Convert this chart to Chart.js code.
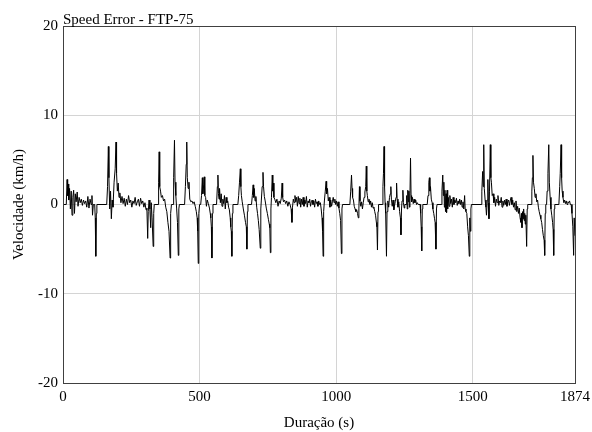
<!DOCTYPE html>
<html>
<head>
<meta charset="utf-8">
<script src="https://cdn.jsdelivr.net/npm/chart.js@4"></script>
<style>
  html, body { margin:0; padding:0; background:#fff; }
  #wrap { width:592px; height:432px; }
</style>
</head>
<body>
<div id="wrap"><canvas id="speedChart" width="592" height="432"></canvas></div>
<script>
// Speed error over the FTP-75 cycle
const timeSec = [
  0, 12, 15, 17, 19, 21, 24, 27, 30, 33, 36, 39, 42, 45, 48, 52, 55, 59, 63, 67, 71, 75, 79, 83, 87, 91, 95, 99, 103, 106, 108, 111, 116, 118, 120, 122, 124,
  160, 163, 166, 168, 171, 174, 177, 180, 183, 187, 191, 194, 196, 199, 202, 205, 208, 212, 216, 220, 224, 228, 232, 236, 240, 244, 248, 252, 256, 260, 264, 268, 272, 276, 280, 284, 288, 292, 296, 300, 304, 307, 310, 312, 315, 318, 321, 323, 326, 330, 332, 334,
  348, 350, 352, 354, 357, 360, 364, 368, 372, 376, 380, 384, 388, 392, 394, 397, 403, 405, 408, 410, 413, 416, 419, 422, 424, 426,
  445, 448, 451, 453, 455, 458, 461, 464, 468, 472, 476, 480, 484, 488, 491, 493, 495, 497, 500, 504, 507, 510, 512, 515, 517, 519, 522, 525, 528, 532, 536, 539, 541, 543, 545, 547, 549,
  562, 565, 567, 569, 571, 573, 576, 579, 582, 585, 588, 591, 594, 597, 600, 603, 606, 609, 612, 614, 616, 618, 620, 622,
  640, 643, 646, 649, 651, 653, 656, 660, 664, 668, 671, 673, 675, 677, 690, 693, 696, 698, 700, 703, 706, 709, 712, 715, 718, 722, 724, 726, 729, 732, 734, 737, 740, 744, 748, 752, 755, 757, 759, 761, 763, 766, 768, 770, 772, 775, 779, 783, 787, 791, 795, 799, 802, 804, 807, 811, 815, 819, 823, 827, 831, 835, 838, 840,
  843, 846, 849, 852, 855, 858, 861, 864, 867, 870, 873, 876, 879, 882, 885, 888, 891, 894, 897, 900, 903, 906, 909, 912, 915, 918, 921, 924, 927, 930, 933, 936, 939, 942, 945, 948, 950, 952, 954, 957, 960, 963, 965, 968, 971, 974, 977, 980, 983, 986, 989, 992, 995, 998,
  1001, 1004, 1007, 1010, 1013, 1016, 1019, 1021, 1023, 1050, 1053, 1056, 1058, 1060, 1063, 1066, 1069, 1072, 1075, 1078, 1081, 1083, 1085, 1087, 1090, 1093, 1096, 1099, 1102, 1105, 1108, 1110, 1112, 1114, 1117, 1120, 1123, 1126, 1129, 1132, 1135, 1138, 1141, 1144, 1147, 1149, 1151, 1153, 1155,
  1168, 1171, 1173, 1175, 1177, 1179, 1181, 1184, 1186, 1189, 1192, 1195, 1198, 1200, 1202, 1205, 1208, 1211, 1213, 1216, 1219, 1221, 1223, 1226, 1229, 1232, 1235, 1237, 1239, 1241, 1244, 1246, 1249, 1251,
  1256, 1258, 1260, 1262, 1264, 1266, 1268, 1270, 1272, 1274, 1276, 1279, 1282, 1285, 1288, 1291, 1294, 1297, 1300, 1307, 1309, 1311, 1313, 1315, 1317,
  1333, 1336, 1339, 1341, 1343, 1345, 1348, 1351, 1354, 1357, 1360, 1362, 1365, 1367, 1369, 1384, 1387, 1390, 1392, 1394, 1396, 1398, 1400, 1402, 1404, 1406, 1408, 1410, 1413, 1416, 1419, 1422, 1425, 1428, 1431, 1434, 1437, 1440, 1443, 1446, 1449, 1452, 1455, 1458, 1461, 1464, 1467, 1470, 1472, 1475, 1478, 1481, 1484, 1487, 1489, 1491, 1493, 1495,
  1530, 1533, 1536, 1538, 1540, 1542, 1545, 1548, 1550, 1553, 1555, 1557, 1559, 1561, 1564, 1566, 1568, 1571, 1574, 1577, 1580, 1583, 1586, 1589, 1592, 1595, 1598, 1601, 1604, 1607, 1610, 1613, 1616, 1619, 1622, 1625, 1628, 1631, 1634, 1637, 1640, 1643, 1646, 1649, 1652, 1655, 1658, 1661, 1664, 1667, 1670, 1673, 1676, 1678, 1680, 1682, 1684, 1686, 1688, 1690, 1692, 1694, 1697, 1699, 1701,
  1713, 1716, 1718, 1720, 1722, 1725, 1728, 1731, 1734, 1737, 1740, 1743, 1746, 1749, 1752, 1755, 1758, 1761, 1763, 1765, 1767, 1770, 1772, 1775, 1778, 1780, 1783, 1786, 1789, 1792, 1794, 1796, 1798, 1800,
  1815, 1818, 1820, 1823, 1825, 1827, 1830, 1833, 1836, 1839, 1842, 1845, 1848, 1851, 1854, 1857, 1860, 1863, 1866, 1869, 1871, 1874
];
const speedErr = [
  0, 0, 2.8, 1.0, 2.3, 0.5, 1.8, -0.5, 1.5, -1.2, 0.8, 1.6, -1.0, 1.2, 0.3, 1.4, -0.2, 0.8, 0.2, 0.6, -0.1, 0.5, 0.1, 0.4, -0.3, 0.9, -0.4, 0.6, 0.0, 1.0, -1.2, 0, 0, -1.5, -5.8, -1.0, 0,
  0, 2.0, 6.5, 3.0, -0.5, 1.5, -1.6, 0.5, -0.3, 2.5, 4.0, 7.0, 3.5, 1.5, 2.4, 0.8, 1.3, 0.2, 0.9, 0.1, 0.7, -0.2, 0.6, 0.0, 1.0, 0.2, 0.5, -0.3, 0.4, 0.1, 0.8, -0.1, 0.3, 0.6, -0.2, 0.7, 0.1, 0.4, -0.3, 0.2, -0.6, -0.4, -3.8, -0.8, 0.5, -0.5, -2.6, 0.2, -1.5, -4.7, -1.0, 0,
  0, 2.5, 5.9, 2.0, 1.5, 0.8, 1.0, 0.4, 0.6, -0.3, -0.8, -2.0, -3.0, -6.0, -1.0, 0, 0, 3.0, 7.2, 2.5, 1.0, -0.5, -2.0, -5.7, -0.5, 0,
  0, 2.0, 4.5, 7.0, 3.0, 1.8, 2.5, 0.6, 0.3, 0.4, 0.1, 0.3, -0.2, -0.8, -1.5, -3.0, -6.6, -1.0, 0, 0, 1.0, 3.0, 1.2, 2.2, 3.1, 1.0, 0.8, -0.2, 0.5, 0.1, -0.4, -1.0, -1.5, -2.5, -6.0, -1.0, 0,
  0, 2.0, 3.3, 1.2, 0.6, 1.8, 0.2, 1.2, -0.2, 0.6, 0.1, 1.0, -0.5, 0.8, 0.2, 0.4, -0.3, -0.6, -1.5, -2.5, -3.0, -5.8, -1.0, 0,
  0, 1.0, 2.5, 4.0, 2.0, 1.0, 0.3, -0.5, -1.2, -2.0, -2.5, -5.0, -0.8, 0, 0, 1.0, 2.2, 0.8, 1.8, 0.4, 0.9, -0.3, -1.0, -1.8, -2.8, -4.9, -0.5, 0.5, 2.0, 3.6, 2.0, 0.9, 0.4, -0.4, -1.0, -1.7, -2.2, -2.6, -5.4, -0.5, 0.8, 3.3, 1.5, 2.4, 0.8, 0.6, 0.2, 0.6, -0.2, 0.4, 0.1, 0.7, 2.4, 0.8, 0.3, 0.5, 0.1, 0.4, -0.2, 0.3, 0.0, -0.5, -2.0, -0.3,
  0.6, 0.2, 1.0, 0.3, 0.8, -0.2, 0.9, 0.1, 0.7, -0.3, 0.6, 0.0, 0.8, -0.2, 0.5, 0.1, 0.9, -0.3, 0.4, 0.2, 0.6, -0.2, 0.3, 0.5, 0.0, 0.4, -0.3, 0.6, 0.1, 0.3, -0.2, 0.4, 0.0, 0.2, -0.5, -1.5, -3.0, -5.8, -0.8, 0.5, 1.5, 2.6, 1.2, 1.8, 0.4, 0.8, -0.3, 0.5, -0.2, 0.3, 0.8, 0.2, 0.6, 0.0,
  0.4, -0.2, 0.3, -0.4, -1.0, -1.8, -5.5, -0.5, 0, 0, 1.5, 3.3, 1.8, 0.8, 0.5, -0.2, -0.5, -0.8, -0.6, -1.0, -1.5, -0.5, 2.0, 0.4, -0.2, 0.3, -0.5, 0.2, 0.8, 1.4, 2.0, 4.3, 1.5, 1.0, 0.3, 0.6, 0.0, 0.4, -0.3, 0.2, -0.4, -0.3, -0.8, -1.2, -2.0, -2.5, -5.1, -0.8, 0,
  0, 2.0, 3.5, 6.5, 2.0, 0.2, -1.0, -5.8, -0.8, 0.4, -0.3, 0.8, 1.2, 2.0, 0.6, -0.2, 0.5, -0.6, -0.2, 0.3, 0.8, 2.4, 0.6, -0.3, 0.3, -0.8, -1.5, -3.4, -0.5, 0.4, 1.6, 0.2, -0.4, 0,
  0, 1.0, -0.5, 1.6, 0.3, 1.5, -0.3, 1.2, 5.2, 1.0, 0.3, 0.8, 0.1, 0.6, 0.2, 0.5, 0.0, 0.2, 0, 0, -1.0, -2.5, -5.2, -0.5, 0,
  0, 1.0, 2.5, 3.0, 1.5, 2.0, 0.6, 0.2, -0.5, -1.0, -1.6, -2.0, -5.0, -0.5, 0, 0, 1.5, 3.3, 1.0, 2.5, -0.3, 1.6, -0.8, 1.2, -0.9, 1.6, -0.5, 0.8, -0.2, 1.0, 0.1, 0.6, -0.3, 0.8, 0.0, 0.5, 0.2, 0.7, -0.1, 0.4, 0.1, 0.6, 0.0, 0.5, -0.3, 0.3, -0.5, 1.0, -0.5, -0.8, -1.0, -2.5, -3.5, -5.8, -1.5, -3.0, -0.5, 0,
  0, 1.5, 3.7, 2.0, 6.7, 1.8, 0.5, -0.3, -1.2, 0.5, 2.8, 0.2, -1.6, 1.5, 6.7, 3.0, 2.5, 1.0, 1.2, 0.2, 0.8, -0.2, 0.6, 0.2, 1.0, -0.1, 0.4, 0.2, 0.8, -0.3, 0.4, -0.1, 0.5, 0.0, 0.6, -0.2, 0.3, 0.5, -0.1, 0.4, 0.8, 0.0, 0.5, -0.3, 0.2, -0.6, 0.4, -0.8, -0.2, -1.0, -0.4, -1.5, -2.0, -1.0, -2.6, -0.8, -1.6, -0.5, -1.8, -1.0, -2.2, -1.2, -4.7, -0.5, 0,
  0, 1.5, 3.0, 5.5, 2.5, 1.8, 0.8, 1.2, 0.3, 0.5, -0.3, -0.8, -1.2, -1.6, -2.0, -2.8, -3.5, -4.0, -5.7, -1.0, 0, 0, 1.5, 3.5, 6.7, 2.5, 0.8, -0.5, -1.2, -2.0, -2.8, -5.7, -0.5, 0,
  0, 2.0, 3.5, 6.7, 3.0, 1.5, 0.8, 0.2, 0.5, 0.1, 0.4, 0.0, 0.3, 0.2, 0.4, 0, 0, -1.0, -2.5, -5.7, -1.5, -3.5
];
const xTicks = [0, 500, 1000, 1500, 1874];
const yTicks = [-20, -10, 0, 10, 20];

const serif = 'Liberation Serif, "Times New Roman", serif';

// plot frame and top-left title
const framePlugin = {
  id: 'frame',
  afterDraw(chart) {
    const { ctx, chartArea: a } = chart;
    ctx.save();
    ctx.strokeStyle = '#404040';
    ctx.lineWidth = 1;
    ctx.strokeRect(Math.round(a.left) + 0.5, Math.round(a.top) + 0.5, Math.round(a.right - a.left), Math.round(a.bottom - a.top));
    ctx.fillStyle = '#000';
    ctx.font = '15px ' + serif;
    ctx.textBaseline = 'alphabetic';
    ctx.fillText('Speed Error - FTP-75', a.left, a.top - 2);
    ctx.restore();
  }
};

function render() {
  const points = timeSec.map((t, i) => ({ x: t, y: speedErr[i] }));

  new Chart(document.getElementById('speedChart'), {
    type: 'line',
    data: {
      datasets: [{
        data: points,
        borderColor: '#000',
        borderWidth: 1,
        pointRadius: 0,
        tension: 0,
        fill: false
      }]
    },
    options: {
      responsive: false,
      animation: false,
      layout: { padding: { top: 26, right: 17, left: 0, bottom: 0 } },
      plugins: { legend: { display: false }, tooltip: { enabled: false } },
      scales: {
        x: {
          type: 'linear',
          min: 0, max: 1874,
          afterBuildTicks: s => { s.ticks = xTicks.map(v => ({ value: v })); },
          afterFit: s => { s.height = 49; s.paddingLeft = 0; s.paddingRight = 0; },
          grid: { color: '#d4d4d4', drawTicks: false },
          border: { display: false },
          ticks: { color: '#000', padding: 5, maxRotation: 0, callback: v => String(v), font: { family: serif, size: 15 } },
          title: { display: true, text: 'Duração (s)', color: '#000', padding: { top: 6, bottom: 0 }, font: { family: serif, size: 15 } }
        },
        y: {
          min: -20, max: 20,
          afterBuildTicks: s => { s.ticks = yTicks.map(v => ({ value: v })); },
          afterFit: s => { s.width = 63; },
          grid: { color: '#d4d4d4', drawTicks: false },
          border: { display: false },
          ticks: { color: '#000', padding: 5, callback: v => String(v), font: { family: serif, size: 15 } },
          title: { display: true, text: 'Velocidade (km/h)', color: '#000', padding: { top: 10, bottom: 0 }, font: { family: serif, size: 15 } }
        }
      }
    },
    plugins: [framePlugin]
  });
}

document.addEventListener('DOMContentLoaded', render);
</script>
</body>
</html>
